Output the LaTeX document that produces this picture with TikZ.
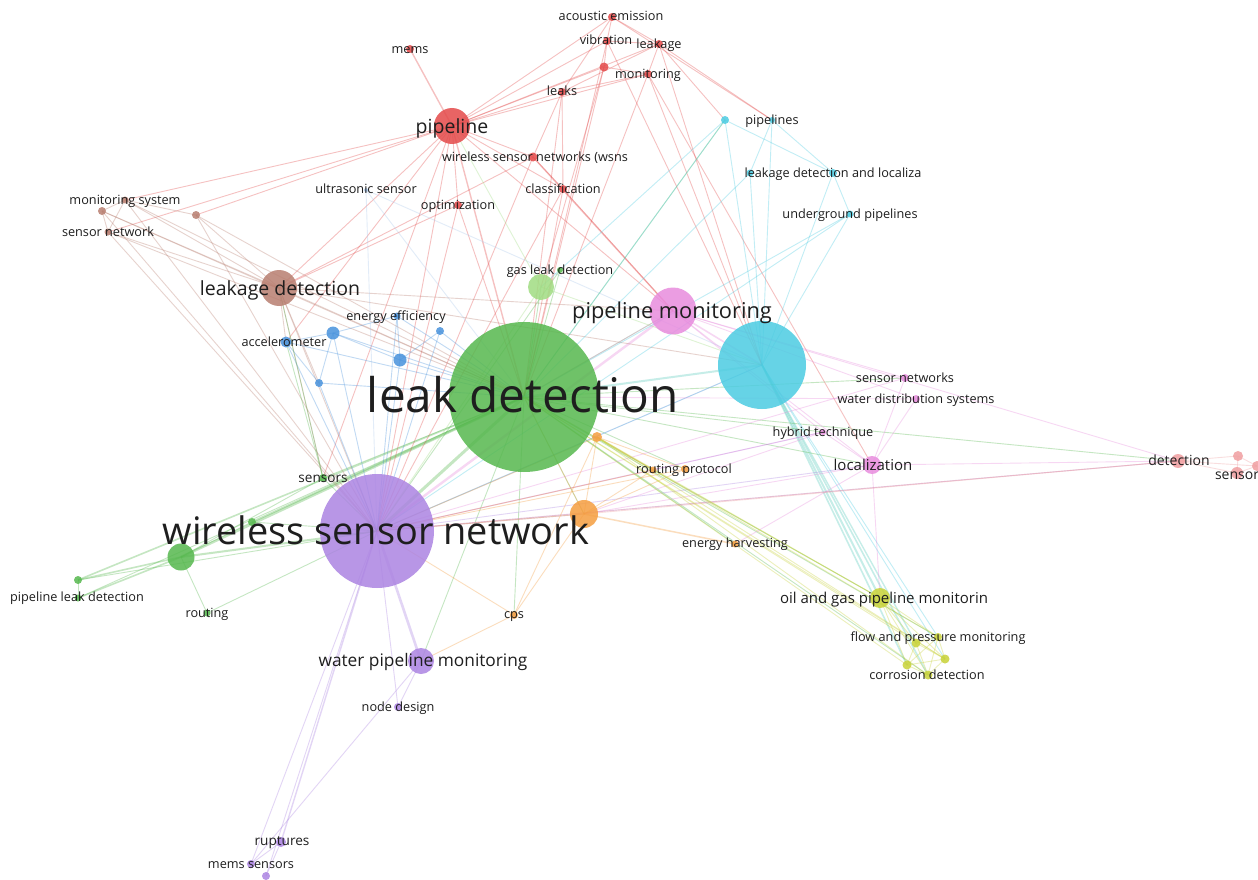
\documentclass[tikz,border=0pt]{standalone}
\usepackage{fontspec}
\setmainfont{Open Sans}
\pgfdeclarelayer{bg}
\pgfdeclarelayer{edges}
\pgfdeclarelayer{labels}
\pgfsetlayers{bg,edges,main,labels}

% cluster colours
\definecolor{cR}{RGB}{228,74,74}
\definecolor{cB}{RGB}{184,126,112}
\definecolor{cBl}{RGB}{72,146,220}
\definecolor{cBp}{RGB}{170,200,235}
\definecolor{cG}{RGB}{86,184,78}
\definecolor{cLG}{RGB}{160,220,130}
\definecolor{cP}{RGB}{172,132,226}
\definecolor{cC}{RGB}{76,204,226}
\definecolor{cK}{RGB}{232,140,222}
\definecolor{cS}{RGB}{240,158,160}
\definecolor{cO}{RGB}{245,158,64}
\definecolor{cY}{RGB}{200,210,56}
\definecolor{cT}{RGB}{90,205,190}
\definecolor{labcol}{RGB}{30,30,30}

\tikzset{
  bub/.style={circle, fill=#1, fill opacity=0.85, draw=none, inner sep=0pt},
  lab/.style={anchor=base, inner sep=0pt, text=labcol,
              font=\fontsize{#1}{#1}\selectfont, yshift={-0.36*#1pt}},
  lab/.default=12.7,
  lk/.style={draw=#1, draw opacity=0.34, line width=0.9pt},
}
\newcommand\edgeset[2]{\foreach \a/\b in {#2} {\draw[lk=#1] (\a.center) -- (\b.center);}}

\begin{document}
\begin{tikzpicture}[x=1pt, y=-1pt]
\useasboundingbox (0,0) rectangle (1258,880);
\begin{pgfonlayer}{bg}
\fill[white] (0,0) rectangle (1258,880);
\end{pgfonlayer}

% ---------- nodes ----------
% red
\node[bub=cR, minimum size=36] (pipe) at (452,126) {};
\node[bub=cR, minimum size=8] (mems) at (410,49) {};
\node[bub=cR, minimum size=8] (acou) at (612,17) {};
\node[bub=cR, minimum size=8] (vibr) at (607,41) {};
\node[bub=cR, minimum size=8] (lkge) at (659,44) {};
\node[bub=cR, minimum size=9] (r1) at (604,67) {};
\node[bub=cR, minimum size=8] (mon) at (648,74) {};
\node[bub=cR, minimum size=8] (leaks) at (562,92) {};
\node[bub=cR, minimum size=9] (wsns) at (533,157) {};
\node[bub=cR, minimum size=8] (cls) at (563,189) {};
\node[bub=cR, minimum size=8] (opt) at (458,205) {};
% brown
\node[bub=cB, minimum size=36] (ldet) at (279,288) {};
\node[bub=cB, minimum size=7] (msys) at (125,200) {};
\node[bub=cB, minimum size=8] (b1) at (102,211) {};
\node[bub=cB, minimum size=7] (snet) at (108,232) {};
\node[bub=cB, minimum size=8] (b2) at (196,215) {};
% blue
\node[bub=cBl, minimum size=11] (acc) at (286,342) {};
\node[bub=cBl, minimum size=13] (bl1) at (333,333) {};
\node[bub=cBl, minimum size=7] (eeff) at (397,316) {};
\node[bub=cBl, minimum size=8] (bl2) at (440,331) {};
\node[bub=cBl, minimum size=13] (bl3) at (400,360) {};
\node[bub=cBl, minimum size=8] (bl4) at (319,383) {};
\node[bub=cBp, minimum size=4] (ultra) at (366,190) {};
% green
\node[bub=cG, minimum size=150] (leak) at (524,397) {};
\node[bub=cLG, minimum size=26] (lg) at (541,287) {};
\node[bub=cG, minimum size=6] (gas) at (560,270) {};
\node[bub=cG, minimum size=8] (sens) at (323,478) {};
\node[bub=cG, minimum size=27] (g1) at (181,557) {};
\node[bub=cG, minimum size=8] (g2) at (252,522) {};
\node[bub=cG, minimum size=7] (pld) at (78,598) {};
\node[bub=cG, minimum size=8] (g3) at (78,580) {};
\node[bub=cG, minimum size=7] (rout) at (207,613) {};
% purple
\node[bub=cP, minimum size=114] (wsn) at (377,531) {};
\node[bub=cP, minimum size=26] (wpm) at (421,661) {};
\node[bub=cP, minimum size=8] (nd) at (398,707) {};
\node[bub=cP, minimum size=10] (rup) at (281,842) {};
\node[bub=cP, minimum size=8] (mss) at (251,864) {};
\node[bub=cP, minimum size=8] (p1) at (266,876) {};
% cyan
\node[bub=cC, minimum size=88] (cy) at (762,365) {};
\node[bub=cC, minimum size=6] (pls) at (772,120) {};
\node[bub=cC, minimum size=8] (c1) at (725,120) {};
\node[bub=cC, minimum size=8] (ldl) at (833,173) {};
\node[bub=cC, minimum size=7] (c2) at (750,173) {};
\node[bub=cC, minimum size=7] (ugp) at (850,214) {};
% pink
\node[bub=cK, minimum size=47] (pmon) at (673,311) {};
\node[bub=cK, minimum size=8] (sn) at (905,378) {};
\node[bub=cK, minimum size=8] (wds) at (916,399) {};
\node[bub=cK, minimum size=6] (hyb) at (823,432) {};
\node[bub=cK, minimum size=18] (loc) at (872,465) {};
% salmon
\node[bub=cS, minimum size=14] (det) at (1178,461) {};
\node[bub=cS, minimum size=12] (sensor) at (1237,473) {};
\node[bub=cS, minimum size=10] (s1) at (1238,456) {};
\node[bub=cS, minimum size=10] (s2) at (1257,466) {};
% orange
\node[bub=cO, minimum size=28] (o1) at (584,514) {};
\node[bub=cO, minimum size=10] (o2) at (597,437) {};
\node[bub=cO, minimum size=8] (rp) at (685,469) {};
\node[bub=cO, minimum size=7] (o3) at (653,470) {};
\node[bub=cO, minimum size=7] (eh) at (735,544) {};
\node[bub=cO, minimum size=8] (cps) at (514,615) {};
% yellow
\node[bub=cY, minimum size=20] (og) at (880,598) {};
\node[bub=cY, minimum size=8] (fpm) at (938,637) {};
\node[bub=cY, minimum size=9] (y1) at (916,643) {};
\node[bub=cY, minimum size=9] (y2) at (945,659) {};
\node[bub=cY, minimum size=9] (y3) at (907,665) {};
\node[bub=cY, minimum size=9] (cor) at (928,675) {};

% ---------- links ----------
\begin{pgfonlayer}{edges}
% heavy links
\draw[lk=cG, line width=3pt] (leak.center) -- (wsn.center);
\draw[lk=cG, line width=2.6pt] (leak.center) -- (g1.center);
\draw[lk=cG, line width=2pt] (leak.center) -- (g2.center);
\draw[lk=cG, line width=1.6pt] (leak.center) -- (g3.center);
\draw[lk=cG, line width=1.6pt] (g1.center) -- (g3.center);
\draw[lk=cG, line width=1.6pt] (g1.center) -- (pld.center);
\draw[lk=cG, line width=2pt] (g1.center) -- (wsn.center);
\draw[lk=cP, line width=2.6pt] (wsn.center) -- (wpm.center);
\draw[lk=cK, line width=2.4pt] (pmon.center) -- (wsn.center);
\draw[lk=cK, line width=1.6pt] (pmon.center) -- (cy.center);
\draw[lk=cT, line width=2pt] (cy.center) -- (og.center);
\draw[lk=cT, line width=1.6pt] (cy.center) -- (y3.center);
\draw[lk=cT, line width=1.6pt] (cy.center) -- (cor.center);
\draw[lk=cT, line width=1.4pt] (cy.center) -- (y1.center);
\draw[lk=cT, line width=2pt] (cy.center) -- (leak.center);
\draw[lk=cO, line width=1.5pt] (o1.center) -- (eh.center);
\draw[lk=cP, line width=1.4pt] (wsn.center) -- (rup.center);
\draw[lk=cR, line width=1.4pt] (pipe.center) -- (mems.center);
\draw[lk=cR, line width=1.4pt] (pipe.center) -- (leak.center);
\draw[lk=cR, line width=1.4pt] (wsns.center) -- (pmon.center);
% red
\edgeset{cR}{pipe/acou, pipe/vibr, pipe/r1, pipe/lkge, pipe/leaks, pipe/mon,
  pipe/wsns, pipe/cls, pipe/opt, pipe/wsn, pipe/ldet, pipe/msys, pipe/b2,
  pipe/acc, pipe/pmon, pipe/sens, pipe/snet,
  acou/vibr, acou/lkge, acou/leaks, acou/pls,
  vibr/lkge, vibr/r1, vibr/leak, vibr/cy,
  lkge/mon, lkge/c1, lkge/cy, lkge/pls, lkge/leaks,
  r1/leak, r1/lg, r1/mon,
  mon/cy, mon/loc, mon/leaks, mon/leak,
  leaks/wsns, leaks/leak, leaks/cls,
  wsns/ldet, wsns/wsn, wsns/cls,
  cls/leak, cls/pmon, cls/wsn,
  opt/leak, opt/wsn, opt/ldet}
% brown
\edgeset{cB}{ldet/msys, ldet/snet, ldet/b1, ldet/b2, ldet/leak, ldet/wsn,
  ldet/acc, ldet/pmon, ldet/cy, ldet/bl4, ldet/sens,
  msys/snet, msys/b1, msys/b2, msys/leak, msys/wsn,
  b1/snet, b1/leak, b1/wsn, snet/leak, snet/wsn, b2/leak, b2/wsn}
% blue
\edgeset{cBl}{acc/bl1, acc/bl4, acc/wsn, acc/leak,
  bl1/eeff, bl1/bl4, bl1/leak, bl1/wsn, bl1/bl3,
  eeff/bl3, eeff/leak, eeff/wsn,
  bl2/bl3, bl2/leak, bl2/wsn, bl3/leak, bl3/wsn, bl4/wsn, bl4/leak}
\edgeset{cBp}{ultra/wsn, ultra/leak, ultra/cy}
% green
\edgeset{cG}{leak/pld, leak/sens, leak/lg, leak/gas, leak/pmon,
  leak/loc, leak/og, leak/wpm, leak/eh, leak/rp, leak/o1, leak/det,
  leak/hyb, leak/sn, leak/c1, leak/cps, leak/fpm, leak/cor,
  g1/rout, g1/sens, g1/g2, g3/pld, g3/wsn, rout/wsn,
  sens/wsn, sens/ldet, sens/acc, g2/wsn, gas/wsn}
\edgeset{cLG}{lg/wsn, lg/pipe, lg/cy}
% purple
\edgeset{cP}{wsn/nd, wsn/mss, wsn/p1, wsn/cy, wsn/loc,
  wsn/det, wsn/o1, wsn/hyb, wpm/mss, wpm/nd, rup/mss, rup/p1}
% cyan
\edgeset{cC}{cy/pls, cy/c1, cy/ldl, cy/c2, cy/ugp, cy/fpm, cy/y2, cy/wsn,
  c1/leak, c1/lg, ldl/ugp, ldl/pls, ldl/c1, c2/leak, ugp/leak, ugp/wsn, pls/c2}
% pink
\edgeset{cK}{pmon/sn, pmon/wds, pmon/loc, pmon/det, pmon/leak, pmon/hyb,
  loc/sn, loc/wds, loc/hyb, loc/det, loc/og, loc/o1, loc/eh,
  hyb/wsn, hyb/o1, wds/leak, sn/wsn}
% salmon
\edgeset{cS}{det/wsn, det/o1, det/sensor, det/s1, det/s2,
  sensor/s1, sensor/s2, s1/s2}
% orange
\edgeset{cO}{o1/cps, o1/rp, o1/o3, o1/o2, o1/wsn, o1/leak,
  o2/rp, o2/o3, o2/cps, o2/wsn, rp/wsn, o3/wsn, cps/wpm, cps/wsn}
% yellow
\edgeset{cY}{og/fpm, og/y1, og/y2, og/y3, og/cor, fpm/y1, fpm/y2, fpm/y3,
  fpm/cor, y1/y2, y1/y3, y1/cor, y2/cor, y3/cor, y2/y3,
  og/leak, y3/leak, y1/leak, y2/leak, y2/o2, og/o2, fpm/o2, cor/o2}
\end{pgfonlayer}

% ---------- labels ----------
\begin{pgfonlayer}{labels}
\node[lab=19.5] (pipe-l) at (452,126) {pipeline};
\node[lab] (mems-l) at (410,49) {mems};
\node[lab] (acou-l) at (611,16) {acoustic emission};
\node[lab] (vibr-l) at (606,40) {vibration};
\node[lab] (lkge-l) at (659,44) {leakage};
\node[lab] (mon-l) at (648,74) {monitoring};
\node[lab] (leaks-l) at (562,91) {leaks};
\node[lab] (wsns-l) at (535,157) {wireless sensor networks (wsns};
\node[lab] (cls-l) at (563,189) {classification};
\node[lab] (opt-l) at (458,205) {optimization};
\node[lab=19.5] (ldet-l) at (280,288) {leakage detection};
\node[lab] (msys-l) at (125,200) {monitoring system};
\node[lab] (snet-l) at (108,232) {sensor network};
\node[lab] (ultra-l) at (366,189) {ultrasonic sensor};
\node[lab] (acc-l) at (284,342) {accelerometer};
\node[lab] (eeff-l) at (396,316) {energy efficiency};
\node[lab] (gas-l) at (560,270) {gas leak detection};
\node[lab=47.7] (leak-l) at (523,395) {leak detection};
\node[lab=13.6] (sens-l) at (323,478) {sensors};
\node[lab=37.9] (wsn-l) at (376,531) {wireless sensor network};
\node[lab] (pld-l) at (77,597) {pipeline leak detection};
\node[lab] (rout-l) at (207,613) {routing};
\node[lab=17.3] (wpm-l) at (423,660) {water pipeline monitoring};
\node[lab] (nd-l) at (398,707) {node design};
\node[lab=13.6] (rup-l) at (282,841) {ruptures};
\node[lab] (mss-l) at (251,864) {mems sensors};
\node[lab=21.8] (pmon-l) at (672,311) {pipeline monitoring};
\node[lab] (pls-l) at (772,120) {pipelines};
\node[lab] (ldl-l) at (833,173) {leakage detection and localiza};
\node[lab] (ugp-l) at (850,214) {underground pipelines};
\node[lab] (sn-l) at (905,378) {sensor networks};
\node[lab] (wds-l) at (916,399) {water distribution systems};
\node[lab] (hyb-l) at (823,432) {hybrid technique};
\node[lab=15] (loc-l) at (873,465) {localization};
\node[lab=14] (det-l) at (1179,460) {detection};
\node[lab=14] (sensor-l) at (1237,474) {sensor};
\node[lab] (rp-l) at (684,469) {routing protocol};
\node[lab] (eh-l) at (735,543) {energy harvesting};
\node[lab] (cps-l) at (514,614) {cps};
\node[lab=15] (og-l) at (884,598) {oil and gas pipeline monitorin};
\node[lab] (fpm-l) at (938,637) {flow and pressure monitoring};
\node[lab] (cor-l) at (927,675) {corrosion detection};
\end{pgfonlayer}
\end{tikzpicture}
\end{document}
